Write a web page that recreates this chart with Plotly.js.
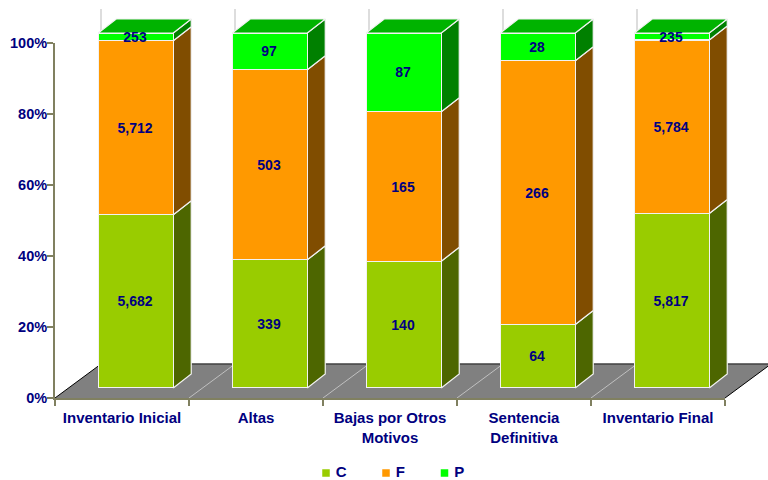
<!DOCTYPE html>
<html>
<head>
<meta charset="utf-8">
<script src="https://cdn.plot.ly/plotly-3.0.1.min.js"></script>
<style>html,body{margin:0;padding:0;background:#fff}#chart{width:768px;height:480px}</style>
</head>
<body>
<div id="chart"></div>
<script>
// Data
var categories = ["Inventario Inicial", "Altas", "Bajas por Otros<br>Motivos", "Sentencia<br>Definitiva", "Inventario Final"];
var seriesC = [5682, 339, 140, 64, 5817];
var seriesF = [5712, 503, 165, 266, 5784];
var seriesP = [253, 97, 87, 28, 235];
var seriesNames = ["C", "F", "P"];
var percentTicks = [0, 20, 40, 60, 80, 100];

// Styles
var FONT = "Liberation Sans, Arial, sans-serif";
var NAVY = "#000080";
var AXIS = "#808060";
var frontColors = ["#99cc00", "#ff9900", "#00ff00"];
var sideColors = ["#4d6600", "#804d00", "#008000"];
var TOP_COLOR = "#00b300";
var EDGE = "#f2f2f2";

// Projection geometry (pixels on the 768x480 page)
var W = 768, H = 480;
var axisL = 55, axisR = 725, axisT = 43, axisB = 398;
var pxX = (axisR - axisL) / 5, pxY = (axisB - axisT) / 100; // pixels per category / per percent
var floorDX = 46, floorDY = 34;     // depth of the floor
var barShiftX = 13.75, barShiftY = 10; // bar front plane relative to the axis plane
var barHalf = 37.5, barDX = 18, barDY = 14;
var labelNudgeX = -0.75, labelNudgeY = 1.5; // value labels, pixels right / down

var all = [seriesC, seriesF, seriesP];
var totals = categories.map(function (_, i) { return seriesC[i] + seriesF[i] + seriesP[i]; });

function fx(i, edge, deep) { return i + 0.5 + (edge * barHalf + barShiftX + (deep ? barDX : 0)) / pxX; }
function fy(p, deep) { return p + (barShiftY + (deep ? barDY : 0)) / pxY; }

var traces = [];
function helper(x, y, opts) {
  var t = { type: "scatter", mode: "lines", x: x, y: y, xaxis: "x", yaxis: "y",
            hoverinfo: "skip", showlegend: false, line: { color: opts.line, width: opts.width } };
  if (opts.fill) { t.fill = "toself"; t.fillcolor = opts.fill; }
  traces.push(t);
}

// Floor
var fdx = floorDX / pxX, fdy = floorDY / pxY;
helper([0, 5, 5 + fdx, fdx, 0], [0, 0, fdy, fdy, 0], { fill: "#808080", line: "#808080", width: 0 });
// Floor divisions and back wall verticals
var divX = [], divY = [], wallX = [], wallY = [];
for (var b = 0; b <= 5; b++) {
  if (b > 0 && b < 5) { divX.push(b, b + fdx, null); divY.push(0, fdy, null); }
  wallX.push(b + fdx, b + fdx, null); wallY.push(fdy, 100 + fdy, null);
}
helper(wallX, wallY, { line: "#dddddd", width: 2 });
helper(divX, divY, { line: "#c0c0c0", width: 1 });
helper([fdx, 5 + fdx], [fdy, fdy], { line: "#404040", width: 1.5 });
helper([0, fdx, null, 5, 5 + fdx], [0, fdy, null, 0, fdy], { line: "#000000", width: 1 });

// Side faces and top faces, derived from the values
all.forEach(function (s, k) {
  var xs = [], ys = [];
  s.forEach(function (v, i) {
    var lo = 0;
    for (var j = 0; j < k; j++) lo += all[j][i];
    var p0 = lo / totals[i] * 100, p1 = (lo + v) / totals[i] * 100;
    xs.push(fx(i, 1, false), fx(i, 1, true), fx(i, 1, true), fx(i, 1, false), fx(i, 1, false), null);
    ys.push(fy(p0, false), fy(p0, true), fy(p1, true), fy(p1, false), fy(p0, false), null);
  });
  helper(xs, ys, { fill: sideColors[k], line: EDGE, width: 1.2 });
});
var tx = [], ty = [];
categories.forEach(function (_, i) {
  tx.push(fx(i, -1, false), fx(i, 1, false), fx(i, 1, true), fx(i, -1, true), fx(i, -1, false), null);
  ty.push(fy(100, false), fy(100, false), fy(100, true), fy(100, true), fy(100, false), null);
});
helper(tx, ty, { fill: TOP_COLOR, line: EDGE, width: 1.2 });

// Legend, drawn under the axis like the original
var legendMarkerPx = [326, 386, 444.5];
seriesNames.forEach(function (n, k) {
  traces.push({ type: "scatter", mode: "markers+text", xaxis: "x", yaxis: "y", showlegend: false, hoverinfo: "skip",
    x: [(legendMarkerPx[k] - axisL) / pxX], y: [(axisB - 473) / pxY], name: n,
    text: ["\u00a0" + n], textposition: "middle right",
    textfont: { family: FONT, size: 15, color: NAVY, weight: 700 },
    marker: { symbol: "square", size: 7.5, color: frontColors[k] } });
});

var centers = categories.map(function (_, i) { return i + 0.5; });

// Carrier for the visible axes
traces.push({ type: "scatter", mode: "lines", x: centers, y: centers.map(function () { return null; }),
  xaxis: "x2", yaxis: "y2", showlegend: false, hoverinfo: "skip" });

// Front faces: real stacked bars on a shifted subplot
all.forEach(function (s, k) {
  traces.push({
    type: "bar", x: centers, y: s, xaxis: "x3", yaxis: "y3", name: seriesNames[k], showlegend: false,
    width: 2 * barHalf / pxX, cliponaxis: false, textposition: "none",
    marker: { color: frontColors[k], line: { color: EDGE, width: 1.2 } }
  });
});
// Value labels, centred on each stacked segment
all.forEach(function (s, k) {
  traces.push({
    type: "scatter", mode: "text", xaxis: "x3", yaxis: "y3", showlegend: false, hoverinfo: "skip", cliponaxis: false,
    x: centers.map(function (c) { return c + labelNudgeX / pxX; }),
    y: s.map(function (v, i) {
      var lo = 0;
      for (var j = 0; j < k; j++) lo += all[j][i];
      return (lo + v / 2) / totals[i] * 100 - labelNudgeY / pxY;
    }),
    text: s.map(function (v) { return v.toLocaleString("en-US"); }),
    textposition: "middle center",
    textfont: { family: FONT, size: 14, color: NAVY, weight: 700 }
  });
});

var layout = {
  width: W, height: H, autosize: false,
  margin: { l: 0, r: 0, t: 0, b: 0 },
  paper_bgcolor: "#ffffff", plot_bgcolor: "rgba(0,0,0,0)",
  barmode: "stack", barnorm: "percent", showlegend: false,
  font: { family: FONT, size: 14, color: NAVY, weight: 700 },
  // Scene covering the whole page: same units as the real axes, so the 3D faces can leave the plot area
  xaxis: { domain: [0, 1], range: [-axisL / pxX, (W - axisL) / pxX], anchor: "y", visible: false, fixedrange: true },
  yaxis: { domain: [0, 1], range: [(axisB - H) / pxY, axisB / pxY], anchor: "x", visible: false, fixedrange: true },
  // The visible axes
  xaxis2: {
    domain: [axisL / W, axisR / W], range: [0, 5], anchor: "y2", fixedrange: true,
    tickmode: "array", tickvals: centers, ticktext: categories,
    ticks: "outside", ticklen: 6, tickcolor: "rgba(0,0,0,0)", tickangle: 0, ticklabelstandoff: -1,
    showgrid: false, zeroline: false, showline: true, linecolor: AXIS, linewidth: 2,
    tickfont: { family: FONT, size: 15, color: NAVY, weight: 700 },
    minor: { tickmode: "array", tickvals: [0, 1, 2, 3, 4, 5], ticks: "outside", ticklen: 6, tickwidth: 2, tickcolor: AXIS, showgrid: false }
  },
  yaxis2: {
    domain: [(H - axisB) / H, (H - axisT) / H], range: [0, 100], anchor: "x2", fixedrange: true,
    tickmode: "array", tickvals: percentTicks, ticktext: percentTicks.map(function (p) { return p + "%"; }),
    ticks: "outside", ticklen: 6, tickwidth: 2, tickcolor: AXIS, ticklabelstandoff: -3,
    showgrid: false, zeroline: false, showline: true, linecolor: AXIS, linewidth: 2,
    tickfont: { family: FONT, size: 14.5, color: NAVY, weight: 700 }
  },
  xaxis3: { domain: [(axisL + barShiftX) / W, (axisR + barShiftX) / W], range: [0, 5], anchor: "y3", visible: false, fixedrange: true },
  yaxis3: { domain: [(H - axisB + barShiftY) / H, (H - axisT + barShiftY) / H], range: [0, 100], anchor: "x3", visible: false, fixedrange: true }
};
Plotly.newPlot("chart", traces, layout, { displayModeBar: false, staticPlot: true });
</script>
</body>
</html>
